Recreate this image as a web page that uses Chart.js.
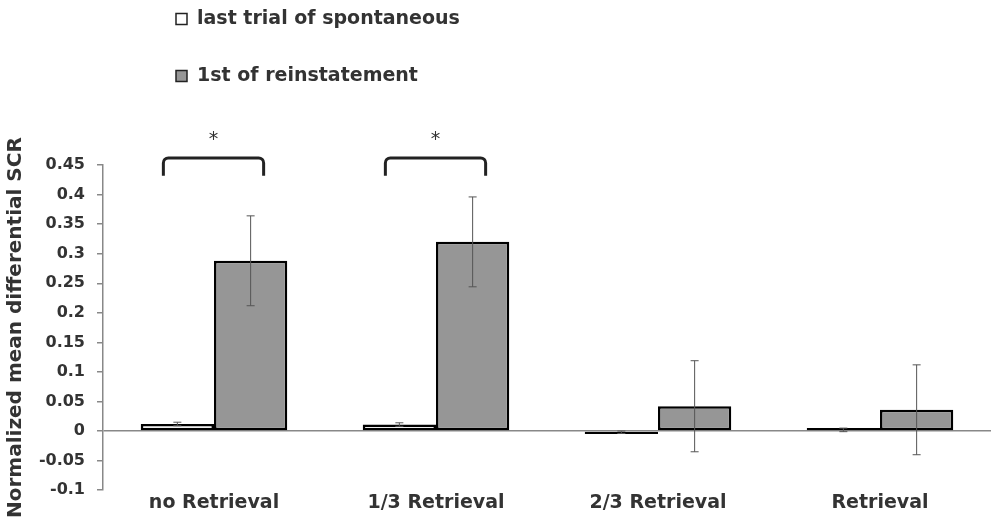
<!DOCTYPE html>
<html>
<head>
<meta charset="utf-8">
<script src="https://cdn.jsdelivr.net/npm/chart.js@4.4.0/dist/chart.umd.min.js"></script>
<style>
  body { margin: 0; background: #fff; }
  #wrap { width: 1000px; height: 530px; position: relative; }
</style>
</head>
<body>
<div id="wrap"><canvas id="graf_scr"></canvas></div>
<script>
// Datos
var categories = ['no Retrieval', '1/3 Retrieval', '2/3 Retrieval', 'Retrieval'];
var spontaneous = [0.012, 0.011, -0.002, 0.002];
var spontaneousErr = [0.003, 0.003, 0.002, 0.003];
var reinstatement = [0.288, 0.320, 0.042, 0.036];
var reinstatementErr = [0.076, 0.076, 0.077, 0.076];
var significant = [true, true, false, false];
var yMin = -0.1, yMax = 0.45, yStep = 0.05;

var FONT = '"DejaVu Sans", sans-serif';
var TEXT = '#333';

var ctx = document.getElementById('graf_scr').getContext('2d');

// Barras de error
var errorBars = {
  id: 'errorBars',
  afterDatasetsDraw: function (chart) {
    var c = chart.ctx, y = chart.scales.y;
    chart.data.datasets.forEach(function (ds, i) {
      var meta = chart.getDatasetMeta(i);
      meta.data.forEach(function (bar, j) {
        var v = ds.data[j], e = ds.errors[j];
        var top = y.getPixelForValue(v + e), bot = y.getPixelForValue(v - e);
        c.save();
        c.strokeStyle = '#555';
        c.lineWidth = 1;
        c.beginPath();
        c.moveTo(bar.x, top); c.lineTo(bar.x, bot);
        c.moveTo(bar.x - 4, top); c.lineTo(bar.x + 4, top);
        c.moveTo(bar.x - 4, bot); c.lineTo(bar.x + 4, bot);
        c.stroke();
        c.restore();
      });
    });
  }
};

// Corchetes de significancia
var brackets = {
  id: 'brackets',
  afterDraw: function (chart) {
    var c = chart.ctx, y = chart.scales.y;
    var m0 = chart.getDatasetMeta(0), m1 = chart.getDatasetMeta(1);
    significant.forEach(function (s, j) {
      if (!s) return;
      var left = m0.data[j].x - 14, right = m1.data[j].x + 13;
      var top = y.getPixelForValue(0.462), bot = y.getPixelForValue(0.432);
      c.save();
      c.strokeStyle = '#222';
      c.lineWidth = 3;
      c.beginPath();
      c.moveTo(left, bot);
      c.arcTo(left, top, right, top, 5);
      c.arcTo(right, top, right, bot, 5);
      c.lineTo(right, bot);
      c.stroke();
      c.fillStyle = TEXT;
      c.font = '19px ' + FONT;
      c.textAlign = 'center';
      c.textBaseline = 'middle';
      c.fillText('*', (left + right) / 2, top - 18);
      c.restore();
    });
  }
};

// Leyenda vertical arriba a la izquierda
var legendBox = {
  id: 'legendBox',
  afterDraw: function (chart) {
    var c = chart.ctx;
    chart.data.datasets.forEach(function (ds, i) {
      var yy = 19 + i * 57;
      c.save();
      c.fillStyle = ds.backgroundColor;
      c.strokeStyle = '#222';
      c.lineWidth = 1.5;
      c.fillRect(176, yy - 5.5, 11, 11);
      c.strokeRect(176, yy - 5.5, 11, 11);
      c.fillStyle = TEXT;
      c.font = 'bold 19px ' + FONT;
      c.textBaseline = 'middle';
      c.fillText(ds.label, 197, yy);
      c.restore();
    });
  }
};

var scrData = {
  labels: categories,
  datasets: [
    {
      label: 'last trial of spontaneous',
      data: spontaneous,
      errors: spontaneousErr,
      backgroundColor: '#ffffff',
      borderColor: '#000000',
      borderWidth: 2.5,
      borderSkipped: false,
      minBarLength: 3,
      barPercentage: 1,
      categoryPercentage: 0.66
    },
    {
      label: '1st of reinstatement',
      data: reinstatement,
      errors: reinstatementErr,
      backgroundColor: '#969696',
      borderColor: '#000000',
      borderWidth: 2.5,
      borderSkipped: false,
      barPercentage: 1,
      categoryPercentage: 0.66
    }
  ]
};

var scrOptions = {
  responsive: true,
  maintainAspectRatio: false,
  animation: false,
  layout: { padding: { top: 165, right: 9, bottom: 15, left: 0 } },
  plugins: {
    legend: { display: false },
    tooltip: { enabled: false }
  },
  scales: {
    x: {
      grid: { display: false, drawTicks: false },
      border: { display: false },
      ticks: { color: TEXT, font: { family: FONT, size: 19, weight: 'bold' }, padding: 1 }
    },
    y: {
      min: yMin,
      max: yMax,
      afterFit: function (scale) { scale.width = 103; },
      ticks: {
        stepSize: yStep,
        color: TEXT,
        padding: 12,
        font: { family: FONT, size: 16, weight: 'bold' },
        callback: function (v) { return String(Math.round(v * 100) / 100); }
      },
      grid: {
        color: function (g) { return Math.abs(g.tick.value) < 1e-9 ? '#888' : 'rgba(0,0,0,0)'; },
        tickColor: '#888',
        tickLength: 6,
        lineWidth: 1.5
      },
      border: { color: '#888', width: 1.5 },
      title: {
        display: true,
        text: 'Normalized mean differential SCR',
        color: TEXT,
        font: { family: FONT, size: 20, weight: 'bold' },
        padding: 4
      }
    }
  }
};

var graf_scr = new Chart(ctx, {
  type: 'bar',
  data: scrData,
  options: scrOptions,
  plugins: [errorBars, brackets, legendBox]
});
</script>
</body>
</html>
